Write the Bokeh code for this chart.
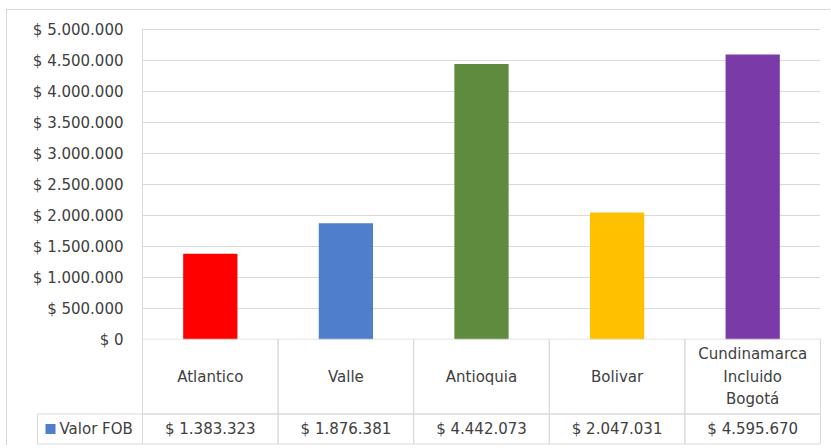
from bokeh.plotting import figure
from bokeh.models import Range1d, FixedTicker
from bokeh.embed import file_html
from bokeh.resources import INLINE
from bokeh.core.properties import value

# ---------------- data ----------------
categories = ["Atlantico", "Valle", "Antioquia", "Bolivar", "Cundinamarca\nIncluido\nBogotá"]
values = [1383323, 1876381, 4442073, 2047031, 4595670]
bar_colors = ["#FF0000", "#4F7FCC", "#5F8B3D", "#FFC000", "#7A3AA8"]
series_name = "Valor FOB"
series_color = "#4F7FCC"
y_ticks = [0, 500000, 1000000, 1500000, 2000000, 2500000, 3000000, 3500000,
           4000000, 4500000, 5000000]


def money(v):
    return "$ " + f"{v:,}".replace(",", ".")


# ---------------- style / layout ----------------
FONT = "DejaVu Sans"
FSIZE = "15px"
TEXT = "#404040"
GRID = "#D9D9D9"
BORDER = "1px solid #D9D9D9"

W = 824
PLOT_L = 135          # left border of bar area (axis labels live here)
PLOT_W = 678          # width of bar area
TOP_B = 18
BOT_B = 14            # room below the frame for the "$ 0" label
PLOT_H = 310
LEG_W = 105           # width of legend cell in table
HEAD_H = 75           # header row height (px)
VAL_H = 30            # value row height (px)

n = len(categories)
xs = [i + 0.5 for i in range(n)]
pxc = PLOT_W / n      # pixels per category
y_max = y_ticks[-1]
pxy = PLOT_H / y_max

# ---------------- bar chart ----------------
p = figure(width=W, height=TOP_B + PLOT_H + 1 + BOT_B,
           x_range=Range1d(0, n), y_range=Range1d(0, y_max + 1 / pxy),
           output_backend="svg", toolbar_location=None, x_axis_location=None,
           min_border_left=PLOT_L, min_border_right=W - PLOT_L - PLOT_W,
           min_border_top=TOP_B, min_border_bottom=BOT_B,
           styles={"margin-left": "6px", "margin-top": "9px",
                   "border-top": BORDER, "border-left": BORDER})
p.vbar(x=xs, top=values, width=0.4, fill_color=bar_colors, line_color=None)

p.outline_line_color = None
p.xgrid.visible = False
p.ygrid.ticker = FixedTicker(ticks=y_ticks)
p.ygrid.grid_line_color = GRID
p.yaxis.ticker = FixedTicker(ticks=y_ticks)
p.yaxis.major_label_overrides = {t: money(t) for t in y_ticks}
p.yaxis.axis_line_color = GRID
p.yaxis.major_tick_line_color = None
p.yaxis.minor_tick_line_color = None
p.yaxis.major_tick_out = 0
p.yaxis.major_label_standoff = 19
p.yaxis.major_label_text_font = FONT
p.yaxis.major_label_text_font_size = FSIZE
p.yaxis.major_label_text_color = TEXT
p.background_fill_color = None
p.border_fill_color = None

# ---------------- data table ----------------
tab_h = HEAD_H + VAL_H
t = figure(width=W, height=tab_h + 2,
           x_range=Range1d(-(LEG_W + 1) / pxc, n + 1 / pxc),
           y_range=Range1d(-1.5, tab_h + 0.5),
           output_backend="svg", toolbar_location=None,
           x_axis_location=None, y_axis_location=None,
           min_border_left=PLOT_L - LEG_W - 1,
           min_border_right=W - PLOT_L - PLOT_W - 1,
           min_border_top=0, min_border_bottom=0,
           styles={"margin-left": "6px", "margin-top": f"-{BOT_B}px",
                   "border-left": BORDER})
t.outline_line_color = None
t.xgrid.visible = False
t.ygrid.visible = False
t.background_fill_color = None
t.border_fill_color = None

# header cells with category names
t.rect(x=xs, y=[VAL_H + HEAD_H / 2] * n, width=1, height=HEAD_H,
       fill_color=None, line_color=GRID)
t.text(x=xs, y=[VAL_H + HEAD_H / 2] * n, text=categories,
       text_align="center", text_baseline="middle", text_line_height=1.25,
       text_font=value(FONT), text_font_size=FSIZE, text_color=TEXT)

# value cells
t.rect(x=xs, y=[VAL_H / 2] * n, width=1, height=VAL_H,
       fill_color=None, line_color=GRID)
t.text(x=xs, y=[VAL_H / 2] * n, text=[money(v) for v in values],
       text_align="center", text_baseline="middle",
       text_font=value(FONT), text_font_size=FSIZE, text_color=TEXT)

# legend cell
leg_w = LEG_W / pxc
t.rect(x=[-leg_w / 2], y=[VAL_H / 2], width=leg_w, height=VAL_H,
       fill_color=None, line_color=GRID)
t.scatter(x=[-leg_w + 13 / pxc], y=[VAL_H / 2], marker="square", size=10,
          fill_color=series_color, line_color=None)
t.text(x=[-leg_w + 22 / pxc], y=[VAL_H / 2], text=[series_name],
       text_align="left", text_baseline="middle",
       text_font=value(FONT), text_font_size=FSIZE, text_color=TEXT)

open("out.html", "w").write(file_html([p, t], INLINE))
